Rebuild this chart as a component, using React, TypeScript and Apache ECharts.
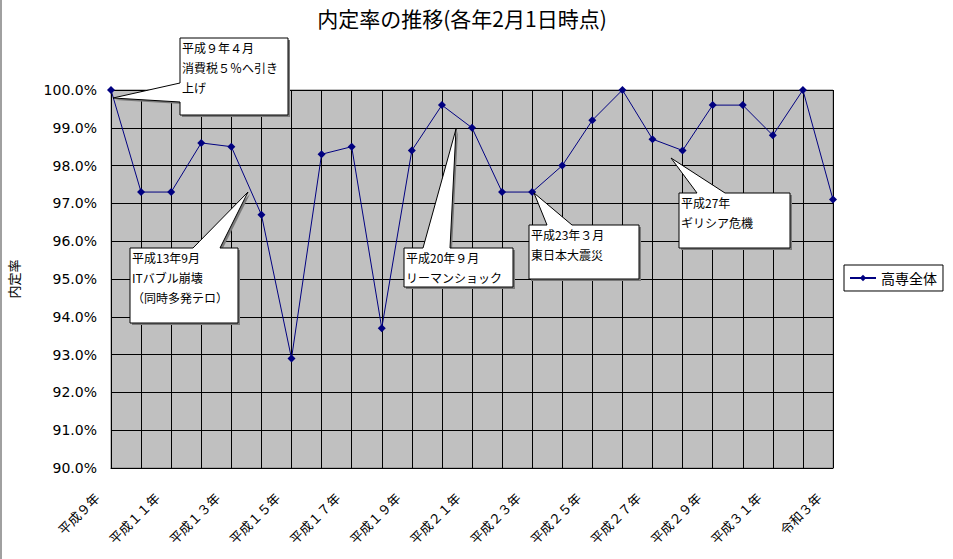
import { useEffect, useRef } from 'react';
import * as echarts from 'echarts';

// 年度ラベル（各年2月1日時点）
const years = [
  '平成９年', '平成１０年', '平成１１年', '平成１２年', '平成１３年', '平成１４年',
  '平成１５年', '平成１６年', '平成１７年', '平成１８年', '平成１９年', '平成２０年',
  '平成２１年', '平成２２年', '平成２３年', '平成２４年', '平成２５年', '平成２６年',
  '平成２７年', '平成２８年', '平成２９年', '平成３０年', '平成３１年', '令和２年', '令和３年',
];

// 内定率（％）
const rates = [
  100.0, 97.3, 97.3, 98.6, 98.5, 96.7, 92.9, 98.3, 98.5, 93.7, 98.4, 99.6,
  99.0, 97.3, 97.3, 98.0, 99.2, 100.0, 98.7, 98.4, 99.6, 99.6, 98.8, 100.0, 97.1,
];

const seriesName = '高専全体';
const chartTitle = '内定率の推移(各年2月1日時点)';
const yName = '内定率';

// 吹き出し
const notes = [
  { lines: ['平成９年４月', '消費税５％へ引き', '上げ'], box: [180, 38, 288, 115], edge: 'left', base: [83, 102], tip: [113, 98] },
  { lines: ['平成13年9月', 'ITバブル崩壊', '（同時多発テロ）'], box: [130, 248, 238, 323], edge: 'top', base: [193, 220], tip: [248, 192] },
  { lines: ['平成20年９月', 'リーマンショック'], box: [404, 248, 513, 287], edge: 'top', base: [423, 450], tip: [456, 129] },
  { lines: ['平成23年３月', '東日本大震災'], box: [529, 225, 639, 279], edge: 'top', base: [547, 572], tip: [534, 193] },
  { lines: ['平成27年', 'ギリシア危機'], box: [679, 193, 790, 248], edge: 'top', base: [697, 725], tip: [671, 158] },
];

const JP = '"Noto Sans CJK JP", sans-serif';

function calloutPoints(n: any, dx = 0, dy = 0) {
  const [x0, y0, x1, y1] = n.box;
  const [a, b] = n.base;
  let pts: number[][];
  if (n.edge === 'left') {
    pts = [[x0, y0], [x1, y0], [x1, y1], [x0, y1], [x0, b], n.tip, [x0, a]];
  } else {
    pts = [[x0, y0], [a, y0], n.tip, [b, y0], [x1, y0], [x1, y1], [x0, y1]];
  }
  return pts.map((p) => [p[0] + dx, p[1] + dy]);
}

export default function App() {
  const chartRef = useRef<HTMLDivElement>(null);

  useEffect(() => {
    if (!chartRef.current) return;
    const chart = echarts.init(chartRef.current, undefined, { renderer: 'svg' });

    const graphics: any[] = [
      { type: 'line', shape: { x1: 1, y1: 0, x2: 1, y2: 559 }, style: { stroke: '#808080', lineWidth: 1.5 } },
      {
        type: 'text',
        x: 462,
        y: 18,
        style: { text: chartTitle, align: 'center', verticalAlign: 'middle', font: `21px ${JP}`, fill: '#000' },
      },
    ];
    notes.forEach((n) => {
      graphics.push({
        type: 'polygon',
        shape: { points: calloutPoints(n, 2, 2) },
        style: { fill: '#7a7a7a', stroke: 'none' },
        z: 100,
      });
      graphics.push({
        type: 'polygon',
        shape: { points: calloutPoints(n) },
        style: { fill: '#fff', stroke: '#000', lineWidth: 1 },
        z: 101,
      });
      graphics.push({
        type: 'text',
        x: n.box[0] + 2,
        y: n.box[1] - 1,
        z: 102,
        style: {
          text: n.lines.join('\n'),
          font: `12px ${JP}`,
          lineHeight: 20,
          fill: '#000',
          align: 'left',
          verticalAlign: 'top',
        },
      });
    });

    const option: any = {
      animation: false,
      grid: {
        left: 111,
        top: 90,
        right: 120,
        bottom: 91,
        outerBoundsMode: 'none',
        containLabel: false,
        show: true,
        backgroundColor: '#C0C0C0',
        borderColor: '#808080',
        borderWidth: 1,
      },
      legend: {
        left: 844,
        top: 265,
        orient: 'vertical',
        selectedMode: false,
        borderColor: '#000',
        borderWidth: 1,
        padding: [6, 6, 6, 5],
        itemWidth: 26,
        itemHeight: 8,
        textStyle: { fontFamily: JP, fontSize: 14, color: '#000' },
        data: [seriesName],
      },
      xAxis: {
        type: 'category',
        data: years,
        boundaryGap: false,
        axisLine: { lineStyle: { color: '#000', width: 1 } },
        axisTick: { show: false },
        splitLine: { show: true, interval: 0, lineStyle: { color: '#000', width: 1 } },
        axisLabel: {
          interval: 1,
          rotate: 45,
          margin: 13,
          padding: [0, 20, 0, 0],
          fontFamily: JP,
          fontSize: 13,
          color: '#000',
        },
      },
      yAxis: {
        type: 'value',
        min: 90,
        max: 100,
        interval: 1,
        name: yName,
        nameLocation: 'middle',
        nameRotate: 90,
        nameGap: 91,
        nameTextStyle: { fontFamily: JP, fontSize: 13, color: '#000' },
        axisLine: { show: true, lineStyle: { color: '#000', width: 1 } },
        axisTick: { show: false },
        splitLine: { show: true, lineStyle: { color: '#000', width: 1 } },
        axisLabel: {
          margin: 14,
          fontFamily: '"DejaVu Sans", sans-serif',
          fontSize: 14,
          color: '#000',
          formatter: (v: number) => v.toFixed(1) + '%',
        },
      },
      series: [
        {
          name: seriesName,
          type: 'line',
          data: rates,
          symbol: 'diamond',
          symbolSize: 8,
          showAllSymbol: true,
          lineStyle: { color: '#000080', width: 1 },
          itemStyle: { color: '#000080' },
          z: 5,
        },
      ],
      graphic: graphics,
    };

    chart.setOption(option);

    const handleResize = () => chart.resize();
    window.addEventListener('resize', handleResize);
    return () => {
      window.removeEventListener('resize', handleResize);
      chart.dispose();
    };
  }, []);

  return (
    <div
      ref={chartRef}
      style={{ position: 'fixed', left: 0, top: 0, width: 953, height: 559, background: '#fff' }}
    />
  );
}
